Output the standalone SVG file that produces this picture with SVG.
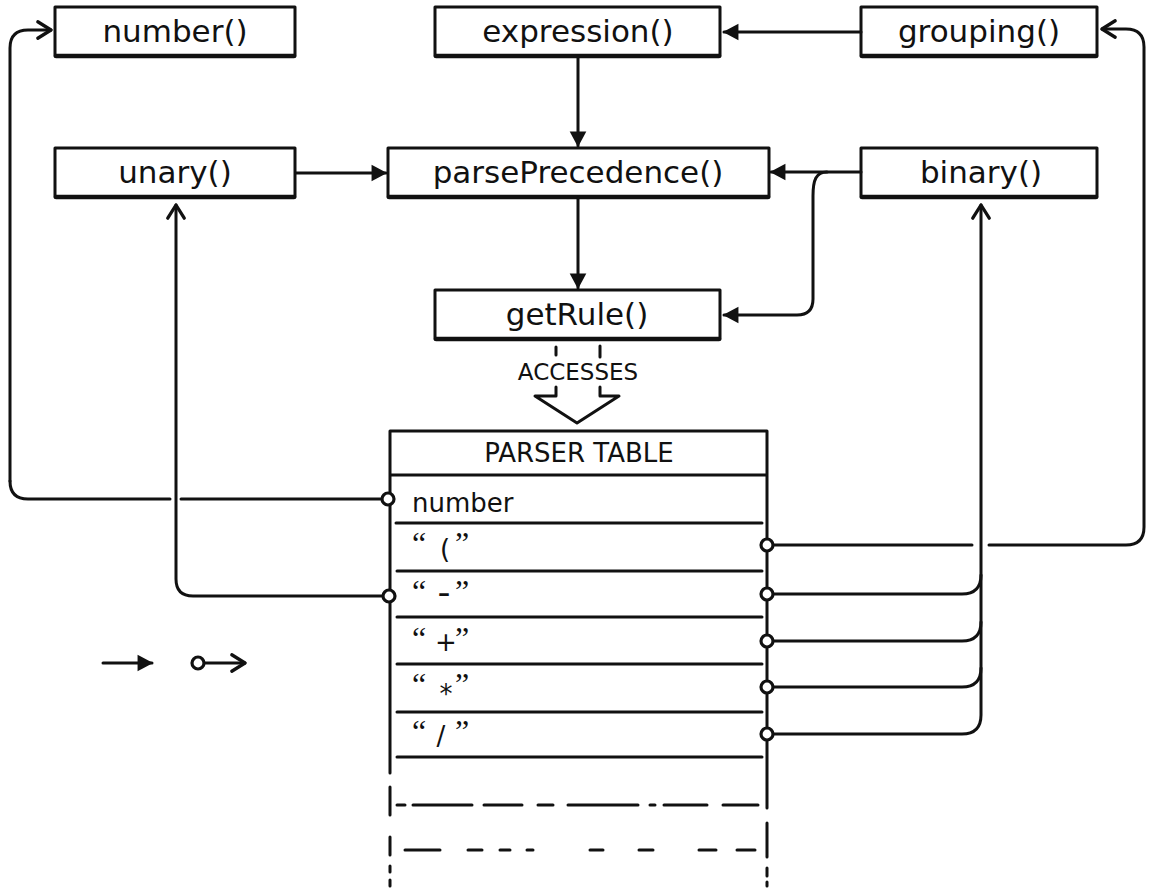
<svg xmlns="http://www.w3.org/2000/svg" width="1152" height="890" viewBox="0 0 1152 890">
<defs>
<style>
.box rect{fill:#fff;stroke:#111;stroke-width:3;stroke-linejoin:round}
.box line{stroke:#111;stroke-width:4.5;stroke-linecap:round}
.lbl{font-family:"DejaVu Sans","Liberation Sans",sans-serif;font-size:31px;fill:#111;text-anchor:middle}
.cap{font-family:"DejaVu Sans","Liberation Sans",sans-serif;fill:#111;text-anchor:middle}
.row{font-family:"DejaVu Sans","Liberation Sans",sans-serif;font-size:26px;fill:#111}
.q{font-family:"Liberation Serif","DejaVu Serif",serif;font-size:32px}
.ln{fill:none;stroke:#111;stroke-width:3;stroke-linecap:round;stroke-linejoin:round}
.solid{marker-end:url(#solid)}
.open{marker-end:url(#open)}
.src{marker-start:url(#dot)}
</style>
<marker id="solid" markerUnits="userSpaceOnUse" markerWidth="20" markerHeight="20" viewBox="-14 -9 16 18" refX="0" refY="0" orient="auto">
<path d="M-13,-7.5 L1,0 L-13,7.5 Z" fill="#111"/>
</marker>
<marker id="open" markerUnits="userSpaceOnUse" markerWidth="22" markerHeight="22" viewBox="-15 -10 18 20" refX="0" refY="0" orient="auto">
<path d="M-12,-7.5 L0,0 L-12,7.5" fill="none" stroke="#111" stroke-width="3" stroke-linecap="round" stroke-linejoin="round"/>
</marker>
<marker id="dot" markerUnits="userSpaceOnUse" markerWidth="20" markerHeight="20" viewBox="-10 -10 20 20" refX="0" refY="0" orient="auto">
<circle cx="0" cy="0" r="6" fill="#fff" stroke="#111" stroke-width="3.2"/>
</marker>
</defs>
<rect width="1152" height="890" fill="#fff"/>

<g id="table">
<path class="ln" d="M390,431 L767,431 M390,431 L390,773 M767,431 L767,808 M390,475 L767,475"/>
<path class="ln" d="M390,787 L390,815 M390,837 L390,855 M390,866 L390,872 M390,880 L390,886 M767,823 L767,857 M767,868 L767,876 M767,882 L767,886"/>
<path class="ln" d="M396,523 L762,523 M397,571 L762,571 M397,617 L762,617 M397,664 L762,664 M397,712 L762,712 M397,757 L762,757"/>
<path class="ln" d="M397,805 L405,805 M413,805 L472,805 M484,805 L522,805 M538,805 L553,805 M568,805 L638,805 M650,805 L655,805 M664,805 L707,805 M723,805 L758,805"/>
<path class="ln" d="M405,850 L440,850 M468,850 L482,850 M500,850 L510,850 M527,850 L533,850 M590,850 L603,850 M639,850 L653,850 M699,850 L716,850 M737,850 L755,850"/>
<text class="cap" x="579" y="462" font-size="26">PARSER TABLE</text>
<text class="row" x="412" y="512" font-size="30">number</text>
<text class="row"><tspan class="q" x="412" y="554">“</tspan><tspan x="445" y="558" text-anchor="middle">(</tspan><tspan class="q" x="455" y="554">”</tspan></text>
<text class="row"><tspan class="q" x="412" y="602">“</tspan><tspan x="444" y="604" text-anchor="middle" font-size="36">-</tspan><tspan class="q" x="455" y="602">”</tspan></text>
<text class="row"><tspan class="q" x="412" y="649">“</tspan><tspan x="446" y="651" text-anchor="middle">+</tspan><tspan class="q" x="455" y="649">”</tspan></text>
<text class="row"><tspan class="q" x="412" y="695">“</tspan><tspan x="446" y="703" text-anchor="middle">*</tspan><tspan class="q" x="455" y="695">”</tspan></text>
<text class="row"><tspan class="q" x="412" y="742">“</tspan><tspan x="441" y="745" text-anchor="middle">/</tspan><tspan class="q" x="455" y="742">”</tspan></text>
</g>

<g id="accesses">
<path class="ln" d="M556,347 L556,355 M600,346 L600,357"/>
<text class="cap" x="578" y="380" font-size="23">ACCESSES</text>
<path class="ln" d="M556,387 L556,396 L535,396 L577,423 L619,396 L600,396 L600,387"/>
</g>

<g id="node-number" class="box"><rect x="55" y="7" width="240" height="49"/><line x1="56" y1="56" x2="294" y2="56"/><text class="lbl" x="175" y="42">number()</text></g>
<g id="node-expression" class="box"><rect x="435" y="7" width="285" height="49"/><line x1="436" y1="56" x2="719" y2="56"/><text class="lbl" x="578" y="42">expression()</text></g>
<g id="node-grouping" class="box"><rect x="861" y="7" width="236" height="49"/><line x1="862" y1="56" x2="1096" y2="56"/><text class="lbl" x="979" y="42">grouping()</text></g>
<g id="node-unary" class="box"><rect x="55" y="148" width="240" height="49"/><line x1="56" y1="197" x2="294" y2="197"/><text class="lbl" x="175" y="183">unary()</text></g>
<g id="node-parsePrecedence" class="box"><rect x="388" y="148" width="381" height="49"/><line x1="389" y1="197" x2="768" y2="197"/><text class="lbl" x="578" y="183">parsePrecedence()</text></g>
<g id="node-binary" class="box"><rect x="861" y="148" width="236" height="49"/><line x1="862" y1="197" x2="1096" y2="197"/><text class="lbl" x="981" y="183">binary()</text></g>
<g id="node-getRule" class="box"><rect x="435" y="290" width="285" height="49"/><line x1="436" y1="339" x2="719" y2="339"/><text class="lbl" x="577" y="325">getRule()</text></g>

<g id="connectors">
<path class="ln solid" d="M861,32 L724,32"/>
<path class="ln solid" d="M578,57 L578,146"/>
<path class="ln solid" d="M296,173 L386,173"/>
<path class="ln solid" d="M861,172 L771,172"/>
<path class="ln solid" d="M578,198 L578,288"/>
<path class="ln solid" d="M827,172 C816,172 813,180 813,196 L813,299 Q813,315 797,315 L724,315"/>
<path class="ln" d="M170,499 L28,499 Q10,499 10,481"/>
<path class="ln open" d="M10,481 L10,48 Q10,30 28,30 L51,30"/>
<path class="ln src" d="M388,499 L181,499"/>
<path class="ln src open" d="M389,596 L193,596 Q176,596 176,579 L176,205"/>
<path class="ln src" d="M767,545 L972,545"/>
<path class="ln open" d="M989,545 L1126,545 Q1144,545 1144,527 L1144,47 Q1144,29 1126,29 L1102,29"/>
<path class="ln src" d="M767,594 L962,594 Q981,594 981,575"/>
<path class="ln src" d="M767,641 L962,641 Q981,641 981,622"/>
<path class="ln src" d="M767,687 L962,687 Q981,687 981,668"/>
<path class="ln src open" d="M767,734 L962,734 Q981,734 981,715 L981,205"/>
</g>

<g id="legend">
<path class="ln solid" d="M103,663 L152,663"/>
<path class="ln src open" d="M198,663 L245,663"/>
</g>
</svg>
